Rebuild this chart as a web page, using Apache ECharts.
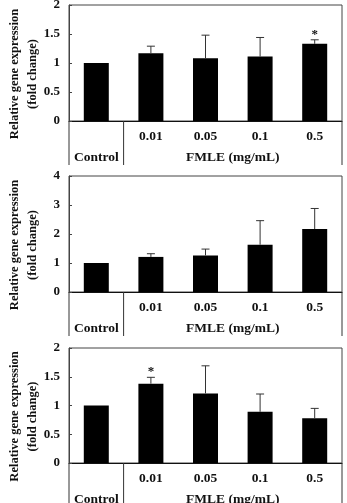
<!DOCTYPE html>
<html>
<head>
<meta charset="utf-8">
<script src="https://cdn.jsdelivr.net/npm/echarts@6/dist/echarts.min.js"></script>
<style>
  html, body { margin: 0; padding: 0; background: #fff; }
  #chart { width: 347px; height: 503px; }
</style>
</head>
<body>
<div id="chart"></div>
<script>
// categories (first one gets its own row under the axis)
const categories = ['Control', '0.01', '0.05', '0.1', '0.5'];
const groupLabel = 'FMLE (mg/mL)';
const yTitle = 'Relative gene expression\n(fold change)';

// panel A
const meanA = [1.0, 1.17, 1.08, 1.11, 1.33];
const sdA = [0, 0.12, 0.40, 0.33, 0.07];
const sigA = [0, 0, 0, 0, 1];
// panel B
const meanB = [1.0, 1.21, 1.26, 1.63, 2.17];
const sdB = [0, 0.11, 0.22, 0.83, 0.71];
const sigB = [0, 0, 0, 0, 0];
// panel C
const meanC = [1.0, 1.38, 1.21, 0.89, 0.78];
const sdC = [0, 0.11, 0.48, 0.31, 0.17];
const sigC = [0, 1, 0, 0, 0];

const yMax = [2, 4, 2];
const yStep = [0.5, 1, 0.5];

const font = 'Liberation Serif';
const ink = '#111';

const panels = [
  { top: 5, height: 116, mean: meanA, sd: sdA, sig: sigA },
  { top: 176, height: 116, mean: meanB, sd: sdB, sig: sigB },
  { top: 348, height: 115, mean: meanC, sd: sdC, sig: sigC }
];

let grid = [], xAxis = [], yAxis = [], series = [];

panels.forEach((p, k) => {
  grid.push({
    left: 69, right: 5, top: p.top, height: p.height,
    outerBoundsMode: 'none', containLabel: false,
    show: true, borderColor: '#444', borderWidth: 1
  });
  xAxis.push({
    type: 'category', gridIndex: k, data: categories,
    axisLine: { lineStyle: { color: ink, width: 1 } },
    axisTick: { length: 22, lineStyle: { color: '#333' } },
    axisLabel: {
      margin: 9, fontFamily: font, fontWeight: 'bold', fontSize: 13.5, color: ink,
      formatter: (v, i) => i === 0 ? '' : v
    }
  });
  yAxis.push({
    type: 'value', gridIndex: k, min: 0, max: yMax[k], interval: yStep[k],
    splitLine: { show: false },
    axisLine: { show: true, lineStyle: { color: '#444' } },
    axisTick: { show: true, inside: true, length: 3, lineStyle: { color: '#444' } },
    axisLabel: { margin: 9, fontFamily: font, fontWeight: 'bold', fontSize: 13, color: ink }
  });

  series.push({
    type: 'bar', xAxisIndex: k, yAxisIndex: k,
    data: p.mean, barWidth: 25,
    itemStyle: { color: '#000' }
  });

  series.push({
    type: 'custom', xAxisIndex: k, yAxisIndex: k, z: 5,
    data: categories.map((c, i) => [i, p.mean[i], p.sd[i], p.sig[i]]),
    renderItem: (params, api) => {
      const i = api.value(0), m = api.value(1), s = api.value(2), g = api.value(3);
      const base = api.coord([i, m]);
      const tip = api.coord([i, m + s]);
      const kids = [];
      if (s > 0) {
        kids.push({ type: 'line', shape: { x1: base[0], y1: base[1], x2: tip[0], y2: tip[1] },
          style: { stroke: '#333', lineWidth: 1 } });
        kids.push({ type: 'line', shape: { x1: tip[0] - 4, y1: tip[1], x2: tip[0] + 4, y2: tip[1] },
          style: { stroke: '#333', lineWidth: 1 } });
      }
      if (g) {
        kids.push({ type: 'text', x: tip[0], y: tip[1] + 1,
          style: { text: '*', fontFamily: font, fontWeight: 'bold', fontSize: 13,
            fill: ink, align: 'center', verticalAlign: 'bottom' } });
      }
      return { type: 'group', children: kids };
    }
  });

  // table lines, lower label row and the y title, placed from the axes
  series.push({
    type: 'custom', xAxisIndex: k, yAxisIndex: k, z: 5, silent: true,
    data: [[0, 0]],
    renderItem: (params, api) => {
      const c0 = api.coord([0, 0]);
      const yTop = api.coord([0, yMax[k]])[1];
      const band = api.size([1, 0])[0];
      const left = c0[0] - band / 2;
      const split = left + band;
      const right = left + band * categories.length;
      const y0 = c0[1];
      const y1 = y0 + 44;
      const ln = x => ({ type: 'line', shape: { x1: x, y1: y0, x2: x, y2: y1 },
        style: { stroke: '#333', lineWidth: 1 } });
      const tx = (x, t) => ({ type: 'text', x: x, y: y0 + 37,
        style: { text: t, fontFamily: font, fontWeight: 'bold', fontSize: 13.5,
          fill: ink, align: 'center', verticalAlign: 'middle' } });
      return { type: 'group', children: [
        ln(left), ln(split), ln(right),
        tx(c0[0], categories[0]), tx((split + right) / 2, groupLabel),
        { type: 'text', x: left - 45, y: (yTop + y0) / 2 + 11, rotation: Math.PI / 2,
          style: { text: yTitle, fontFamily: font, fontWeight: 'bold', fontSize: 12.5,
            lineHeight: 18, fill: ink, align: 'center', verticalAlign: 'middle' } }
      ] };
    }
  });
});

const chart = echarts.init(document.getElementById('chart'));
chart.setOption({
  animation: false,
  grid: grid,
  xAxis: xAxis,
  yAxis: yAxis,
  series: series
});
</script>
</body>
</html>
